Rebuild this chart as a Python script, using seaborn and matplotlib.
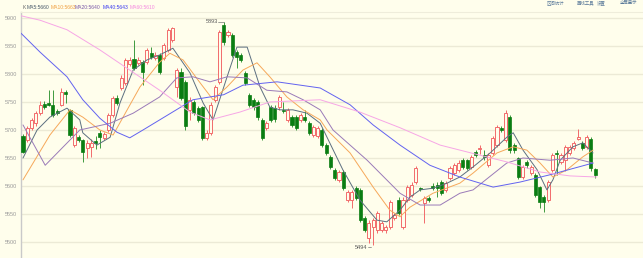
import numpy as np
import pandas as pd
import matplotlib
matplotlib.use("Agg")
import matplotlib.pyplot as plt
import seaborn as sns

# ---------------- data ----------------
open_ = [5689,5682,5704,5712,5730,5746,5748,5745,5734,5745,
         5768,5736,5673,5687,5682,5668,5670,5680,5695,5686,
         5700,5727,5757,5775,5784,5818,5827,5820,5821,5821,
         5837,5829,5834,5829,5843,5861,5777,5804,5786,5736,
         5750,5739,5741,5686,5695,5754,5786,5887,5870,5870,
         5839,5834,5802,5762,5754,5750,5718,5704,5741,5739,
         5741,5736,5718,5723,5723,5718,5723,5712,5691,5689,
         5700,5673,5652,5629,5611,5625,5575,5575,5596,5593,
         5543,5507,5527,5521,5521,5521,5527,5543,5575,5527,
         5575,5584,5607,5596,5570,5579,5600,5602,5607,5593,
         5614,5623,5629,5646,5646,5634,5661,5666,5655,5637,
         5659,5673,5704,5682,5723,5673,5650,5616,5643,5623,
         5620,5598,5580,5575,5629,5659,5643,5646,5659,5668,
         5684,5677,5670,5684,5630]
close = [5661,5704,5718,5730,5745,5741,5745,5727,5730,5768,
         5764,5691,5704,5682,5661,5677,5677,5677,5687,5693,
         5727,5757,5748,5793,5825,5825,5811,5825,5804,5843,
         5830,5834,5804,5852,5879,5882,5807,5757,5707,5754,
         5730,5718,5686,5695,5745,5777,5875,5857,5875,5834,
         5830,5825,5784,5745,5741,5723,5686,5712,5718,5720,
         5759,5734,5736,5709,5704,5727,5718,5695,5705,5704,
         5673,5659,5634,5614,5625,5596,5589,5589,5579,5539,
         5521,5534,5539,5552,5534,5527,5571,5548,5552,5575,
         5598,5602,5632,5595,5579,5575,5596,5596,5588,5605,
         5632,5637,5641,5634,5632,5652,5655,5668,5652,5655,
         5686,5705,5700,5730,5664,5664,5616,5634,5637,5634,
         5584,5571,5571,5607,5655,5657,5655,5670,5670,5677,
         5687,5668,5687,5632,5620]
high = [5693,5708,5722,5734,5752,5752,5771,5771,5738,5775,
        5771,5738,5707,5691,5684,5682,5684,5689,5700,5696,
        5730,5760,5762,5798,5828,5830,5861,5830,5825,5846,
        5848,5839,5837,5855,5882,5884,5811,5811,5789,5759,
        5754,5743,5743,5700,5750,5780,5879,5893,5879,5873,
        5843,5837,5805,5766,5757,5754,5721,5716,5745,5745,
        5762,5750,5739,5727,5727,5730,5736,5716,5709,5707,
        5704,5677,5655,5632,5629,5629,5593,5593,5600,5596,
        5546,5539,5543,5555,5537,5530,5575,5552,5580,5580,
        5602,5607,5636,5598,5582,5582,5605,5607,5611,5609,
        5636,5641,5646,5650,5648,5655,5664,5673,5664,5659,
        5689,5709,5707,5736,5727,5677,5652,5637,5646,5637,
        5623,5600,5584,5611,5659,5664,5659,5673,5673,5680,
        5702,5680,5691,5687,5632]
low = [5659,5678,5700,5708,5727,5738,5743,5723,5727,5743,
       5748,5687,5670,5679,5643,5650,5652,5666,5668,5682,
       5696,5723,5745,5771,5780,5814,5807,5816,5780,5818,
       5827,5825,5800,5825,5839,5857,5759,5754,5700,5718,
       5727,5714,5682,5682,5691,5750,5782,5852,5866,5830,
       5811,5821,5780,5741,5736,5718,5682,5700,5714,5714,
       5736,5730,5714,5705,5700,5714,5714,5691,5687,5686,
       5670,5655,5630,5611,5607,5593,5571,5561,5575,5536,
       5518,5498,5494,5516,5518,5516,5523,5539,5548,5523,
       5571,5580,5604,5591,5534,5571,5593,5580,5584,5589,
       5611,5620,5625,5630,5629,5630,5652,5657,5646,5634,
       5655,5670,5696,5679,5659,5659,5612,5612,5632,5620,
       5580,5561,5554,5571,5625,5620,5639,5627,5655,5664,
       5682,5664,5666,5627,5614]

# moving-average lines (candle index, value)
ma5_i = [0,3.3,6.3,10.3,13.3,14,17.3,20.4,22.7,25.8,29,32,35.1,39.1,42.2,44.5,47.8,50.1,52.5,55.5,
         57.8,60.2,63.2,66.5,69.6,71.2,74.9,78.9,82.9,85.2,88.3,90.6,93,96,99.3,102.3,105.4,109.4,
         113.3,114.8,117.1,120.4,122.7,124.1,125.8,128.8,131.1,133.5]
ma5_v = [5650,5700,5723,5739,5718,5695,5673,5687,5748,5807,5825,5834,5846,5802,5748,5718,5795,5848,5848,5777,
         5741,5736,5736,5730,5712,5687,5629,5575,5539,5536,5557,5580,5593,5596,5605,5616,5634,5659,
         5687,5695,5664,5629,5593,5611,5646,5670,5677,5659]
ma10_i = [0,6.3,11,14,18,21.1,27.4,32,34.4,37.5,41.5,44.5,47.8,51.5,54.8,57.8,61.8,65.6,69.6,71.2,
          76.6,82,85.9,88.3,90.6,96,102.3,105.4,111,114.8,118,121.1,124.1,127.4,131.1,133.5]
ma10_v = [5611,5691,5736,5723,5700,5691,5777,5821,5837,5825,5784,5754,5777,5807,5820,5795,5759,5736,5718,5700,
          5659,5598,5557,5545,5562,5587,5605,5623,5659,5670,5664,5641,5616,5629,5652,5664]
ma20_i = [0,5.2,13.3,20.4,25.8,32,36,39.8,43.8,47.8,52.5,57.1,61.8,65.6,69.6,72.6,80.6,88.3,93,97.7,
          102.3,105.4,113.3,117.1,123.4,128.8,133.5]
ma20_v = [5709,5637,5700,5712,5730,5759,5793,5795,5786,5795,5793,5771,5768,5754,5736,5700,5646,5587,5566,5566,
          5587,5593,5641,5650,5646,5650,5641]
ma40_i = [-0.5,4,10.3,14,18,22,25,28.1,32,39.8,47,51.5,59.5,69.6,76.6,82,88.3,95.3,102.3,110.1,116.4,123.4,133.5]
ma40_v = [5873,5839,5795,5754,5721,5696,5686,5700,5718,5754,5763,5780,5786,5775,5745,5709,5673,5637,5616,5598,5607,5620,5641]
ma60_i = [-0.5,4,10.3,18,25,32,39.1,43.8,50.8,57.8,69.6,78.9,88.3,97.7,107,113.3,121.1,128.1,134.4]
ma60_v = [5904,5896,5879,5843,5807,5771,5732,5718,5732,5750,5754,5732,5704,5673,5655,5643,5625,5618,5616]

ma_names = ["MA5", "MA10", "MA20", "MA40", "MA60"]
ma_last = [5660, 5663, 5640, 5643, 5610]
yticks = [5500, 5550, 5600, 5650, 5700, 5750, 5800, 5850, 5900]
toolbar = ["区间统计", "画线工具", "设置", "全屏显示"]

# ---------------- style ----------------
sns.set_theme(style="white")
plt.rcParams['font.family'] = ['Liberation Sans', 'Noto Sans CJK SC', 'DejaVu Sans']

W, H = 643, 258
bg = "#fffeec"
fig = plt.figure(figsize=(W / 100, H / 100), dpi=100)
fig.patch.set_facecolor(bg)
ax = fig.add_axes([21 / W, 0, (W - 21) / W, (H - 12) / H])
ax.set_facecolor(bg)

n = len(close)
idx = np.arange(n)
df = pd.DataFrame({"i": idx, "open": open_, "close": close, "high": high, "low": low})
up = df["close"] >= df["open"]

red = "#f26b6b"
green = "#0a7d12"

# wicks
ax.vlines(df.loc[up, "i"], df.loc[up, "low"], df.loc[up, "high"], color=red, lw=0.7, zorder=3)
ax.vlines(df.loc[~up, "i"], df.loc[~up, "low"], df.loc[~up, "high"], color="#3e9a3e", lw=0.7, zorder=3)
# bodies
body_lo = np.minimum(df["open"], df["close"])
body_h = np.maximum(np.abs(df["close"] - df["open"]), 1.2)
ax.bar(df.loc[up, "i"], body_h[up], bottom=body_lo[up], width=0.72,
       facecolor=bg, edgecolor=red, linewidth=0.7, zorder=4)
ax.bar(df.loc[~up, "i"], body_h[~up], bottom=body_lo[~up], width=0.72,
       facecolor=green, edgecolor=green, linewidth=0.5, zorder=4)

# moving averages
ma_colors = ["#5c6f80", "#f6a85a", "#9a7ab8", "#6262f0", "#f7a6e6"]
for xi, yv, c in zip([ma5_i, ma10_i, ma20_i, ma40_i, ma60_i],
                     [ma5_v, ma10_v, ma20_v, ma40_v, ma60_v], ma_colors):
    sns.lineplot(x=xi, y=yv, ax=ax, color=c, lw=0.7, zorder=5, sort=False)

ax.set_xlim(-0.47, 145.2)
ax.set_ylim(5471.4, 5910.7)
ax.set_yticks(yticks)
ax.set_yticklabels([str(t) for t in yticks], fontsize=4, color="#9a9a9a")
ax.tick_params(axis="y", length=0, pad=3)
ax.set_xticks([])
ax.yaxis.grid(True, color="#ecead6", lw=1.0)
ax.xaxis.grid(False)
for s in ["right", "bottom"]:
    ax.spines[s].set_visible(False)
ax.spines["left"].set_color("#c9c9c9")
ax.spines["left"].set_linewidth(1.0)
ax.spines["top"].set_color("#efeddb")
ax.spines["top"].set_linewidth(0.8)
ax.set_xlabel("")
ax.set_ylabel("")

# high / low labels
ih = int(np.argmax(high)); il = int(np.argmin(low))
ax.plot([ih - 1.3, ih], [high[ih], high[ih]], color="#777777", lw=0.5, zorder=6)
ax.text(ih - 1.4, high[ih], f"{high[ih]}", fontsize=4, color="#555555", ha="right", va="center", zorder=6)
ax.plot([il - 1.3, il - 0.4], [low[il] - 3, low[il] - 3], color="#777777", lw=0.5, zorder=6)
ax.text(il - 1.4, low[il] - 3, f"{low[il]}", fontsize=4, color="#555555", ha="right", va="center", zorder=6)

# header
fig.text(23 / W, 1 - 7.5 / H, "K", fontsize=3.6, color="#666666", va="center")
xs = [27, 51, 75, 103, 130]
for x, nm, v, c in zip(xs, ma_names, ma_last, ["#4b5b6b", "#f0a040", "#7c5aa8", "#3c3cf0", "#f58ae0"]):
    fig.text(x / W, 1 - 7.5 / H, f"{nm}:{v}", fontsize=3.6, color=c, va="center")

# toolbar (top right)
for x, t in zip([547, 577, 597, 620], toolbar):
    fig.text(x / W, 1 - 3 / H, t, fontsize=3.2, color="#5a7a9a", va="center")

fig.savefig("out.png", dpi=100, facecolor=bg)
